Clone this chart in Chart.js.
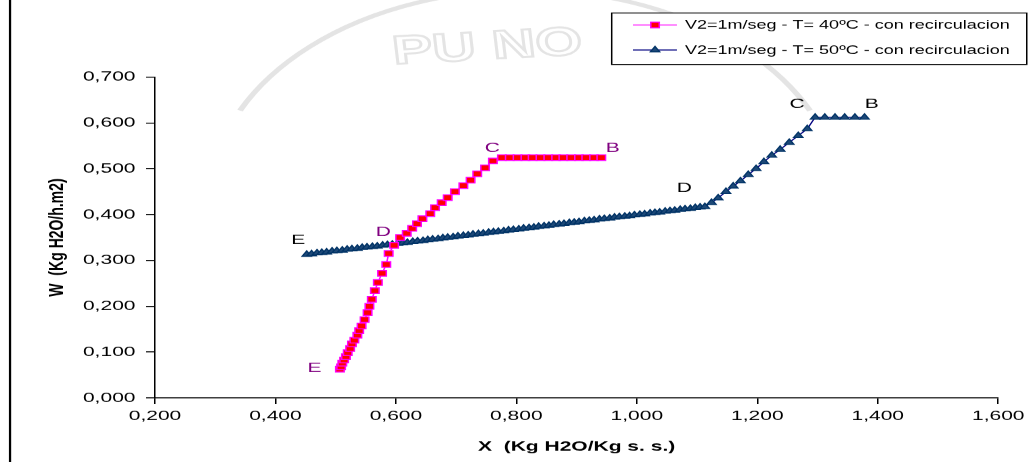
<!DOCTYPE html>
<html>
<head>
<meta charset="utf-8">
<script src="https://cdn.jsdelivr.net/npm/chart.js@4"></script>
<style>
  html, body { margin: 0; padding: 0; background: #fff; }
  /* the original picture is stretched sideways, so the canvas is too */
  #myChart { display: block; width: 1030px !important; height: 462px !important; }
</style>
</head>
<body>
<canvas id="myChart" width="687" height="462"></canvas>
<script>
// T = 40ºC, squares (E -> D -> C -> B)
const x40 = [0.507, 0.509, 0.511, 0.514, 0.517, 0.520, 0.524, 0.527, 0.531, 0.536,
             0.539, 0.543, 0.548, 0.553, 0.556, 0.560, 0.565, 0.570, 0.577, 0.584,
             0.588, 0.597, 0.607, 0.618, 0.627, 0.635, 0.644, 0.657, 0.665, 0.676,
             0.686, 0.698, 0.712, 0.724, 0.735, 0.748, 0.761, 0.776, 0.789, 0.802,
             0.815, 0.827, 0.840, 0.853, 0.866, 0.878, 0.891, 0.904, 0.916, 0.929, 0.941];
const w40 = [0.063, 0.068, 0.076, 0.083, 0.090, 0.099, 0.108, 0.118, 0.126, 0.137,
             0.147, 0.157, 0.171, 0.186, 0.200, 0.215, 0.234, 0.252, 0.272, 0.291,
             0.315, 0.333, 0.350, 0.359, 0.370, 0.380, 0.391, 0.402, 0.415, 0.426,
             0.437, 0.450, 0.463, 0.475, 0.489, 0.502, 0.517, 0.524, 0.524, 0.524,
             0.524, 0.524, 0.524, 0.524, 0.524, 0.524, 0.524, 0.524, 0.524, 0.524, 0.524];

// T = 50ºC, triangles (E -> D -> C -> B)
const x50 = [0.452, 0.460, 0.469, 0.477, 0.485, 0.494, 0.502, 0.511, 0.519, 0.527,
             0.536, 0.544, 0.552, 0.561, 0.569, 0.578, 0.586, 0.594, 0.603, 0.611,
             0.619, 0.628, 0.636, 0.645, 0.653, 0.661, 0.670, 0.678, 0.686, 0.695,
             0.703, 0.712, 0.720, 0.728, 0.737, 0.745, 0.754, 0.762, 0.770, 0.779,
             0.787, 0.795, 0.804, 0.812, 0.821, 0.829, 0.837, 0.846, 0.854, 0.862,
             0.871, 0.879, 0.888, 0.896, 0.904, 0.913, 0.921, 0.929, 0.938, 0.946,
             0.955, 0.963, 0.971, 0.980, 0.988, 0.996, 1.005, 1.013, 1.022, 1.030,
             1.038, 1.047, 1.055, 1.063, 1.072, 1.080, 1.089, 1.097, 1.105, 1.113,
             1.124, 1.135, 1.148, 1.160, 1.172, 1.185, 1.198, 1.211, 1.224, 1.238,
             1.253, 1.268, 1.283, 1.296, 1.312, 1.329, 1.345, 1.362, 1.378];
const w50 = [0.313, 0.314, 0.316, 0.317, 0.318, 0.320, 0.321, 0.322, 0.324, 0.325,
             0.326, 0.328, 0.329, 0.330, 0.331, 0.333, 0.334, 0.335, 0.337, 0.338,
             0.339, 0.341, 0.342, 0.343, 0.345, 0.346, 0.347, 0.349, 0.350, 0.351,
             0.353, 0.354, 0.355, 0.357, 0.358, 0.359, 0.361, 0.362, 0.363, 0.364,
             0.366, 0.367, 0.368, 0.370, 0.371, 0.372, 0.374, 0.375, 0.376, 0.378,
             0.379, 0.380, 0.382, 0.383, 0.384, 0.386, 0.387, 0.388, 0.390, 0.391,
             0.392, 0.394, 0.395, 0.396, 0.397, 0.399, 0.400, 0.401, 0.403, 0.404,
             0.405, 0.407, 0.408, 0.409, 0.411, 0.412, 0.413, 0.415, 0.416, 0.417,
             0.426, 0.436, 0.450, 0.462, 0.473, 0.487, 0.500, 0.515, 0.529, 0.542,
             0.557, 0.572, 0.587, 0.612, 0.612, 0.612, 0.612, 0.612, 0.612];

// letters written next to the curves
const stageNames = ['E', 'D', 'C', 'B'];
const stage40X = [0.465, 0.579, 0.760, 0.960];
const stage40W = [0.065, 0.362, 0.545, 0.545];
const stage50X = [0.438, 1.079, 1.266, 1.390];
const stage50W = [0.344, 0.458, 0.641, 0.641];

const seriesNames = [
    'V2=1m/seg - T= 40ºC - con recirculacion',
    'V2=1m/seg - T= 50ºC - con recirculacion'
];

const FONT = "'Liberation Sans', Arial, sans-serif";

function toPoints(xs, ys){
    return xs.map((x, i) => ({x: x, y: ys[i]}));
}

function fmt(v){
    return Number(v).toFixed(3).replace('.', ',');
}

// faint watermark behind the plot
const watermark = {
    id: 'watermark',
    beforeDraw(chart){
        const ctx = chart.ctx;
        ctx.save();
        ctx.strokeStyle = '#e4e4e4';
        ctx.lineWidth = 4;
        ctx.beginPath();
        ctx.arc(350, 200, 210, Math.PI * 1.14, Math.PI * 1.86);
        ctx.stroke();
        ctx.translate(325, 48);
        ctx.rotate(-0.08);
        ctx.font = 'bold 40px ' + FONT;
        ctx.textAlign = 'center';
        ctx.textBaseline = 'middle';
        ctx.lineWidth = 2;
        ctx.strokeText('PU NO', 0, 0);
        ctx.restore();
    }
};

const extras = {
    id: 'extras',
    afterDraw(chart){
        const ctx = chart.ctx;
        const sx = chart.scales.x, sy = chart.scales.y;
        ctx.save();

        // outer frame of the original figure
        ctx.strokeStyle = '#000';
        ctx.lineWidth = 1.5;
        ctx.beginPath();
        ctx.moveTo(6.7, 0);
        ctx.lineTo(6.7, 462);
        ctx.stroke();

        // stage letters
        ctx.font = '14px ' + FONT;
        ctx.textAlign = 'center';
        ctx.textBaseline = 'middle';
        stageNames.forEach((s, i) => {
            ctx.fillStyle = '#800080';
            ctx.fillText(s, sx.getPixelForValue(stage40X[i]), sy.getPixelForValue(stage40W[i]));
            ctx.fillStyle = '#000';
            ctx.fillText(s, sx.getPixelForValue(stage50X[i]), sy.getPixelForValue(stage50W[i]));
        });

        // legend box, drawn the way the spreadsheet does it
        ctx.fillStyle = '#fff';
        ctx.fillRect(407.8, 13, 276.7, 51.5);
        ctx.lineWidth = 1;
        ctx.strokeStyle = '#000';
        ctx.strokeRect(407.8, 13, 276.7, 51.5);

        const rows = [25, 50];
        chart.data.datasets.forEach((ds, i) => {
            const y = rows[i];
            ctx.strokeStyle = ds.borderColor;
            ctx.lineWidth = 1;
            ctx.beginPath();
            ctx.moveTo(422, y);
            ctx.lineTo(451.3, y);
            ctx.stroke();
            ctx.fillStyle = ds.pointBackgroundColor;
            ctx.strokeStyle = ds.pointBorderColor;
            ctx.lineWidth = ds.pointBorderWidth;
            Chart.helpers.drawPoint(ctx, {
                pointStyle: ds.pointStyle,
                radius: ds.pointRadius,
                rotation: 0,
                borderWidth: ds.pointBorderWidth
            }, 436.7, y);
            ctx.fillStyle = '#000';
            ctx.font = '12px ' + FONT;
            ctx.textAlign = 'left';
            ctx.textBaseline = 'middle';
            ctx.fillText(ds.label, 456.7, y + 0.5);
        });
        ctx.restore();
    }
};

const ctx = document.getElementById('myChart').getContext('2d');
const myChart = new Chart(ctx, {
    type: 'scatter',
    data: {
        datasets: [{
            label: seriesNames[0],
            data: toPoints(x40, w40),
            showLine: true,
            borderColor: '#ff00ff',
            borderWidth: 1,
            pointStyle: 'rect',
            pointRadius: 4,
            pointBackgroundColor: '#ff0000',
            pointBorderColor: '#ff00ff',
            pointBorderWidth: 1
        },
        {
            label: seriesNames[1],
            data: toPoints(x50, w50),
            showLine: true,
            borderColor: '#000080',
            borderWidth: 1,
            pointStyle: 'triangle',
            pointRadius: 3.6,
            pointBackgroundColor: '#1d4877',
            pointBorderColor: '#003366',
            pointBorderWidth: 1
        }]
    },
    options: {
        responsive: false,
        animation: false,
        devicePixelRatio: 1.5,
        layout: { padding: { left: 0, top: 77, right: 20.3, bottom: 0 } },
        plugins: {
            legend: { display: false },
            tooltip: { enabled: false }
        },
        scales: {
            x: {
                type: 'linear',
                min: 0.2,
                max: 1.6,
                afterFit: s => { s.height = 64; },
                border: { color: '#000', width: 1 },
                grid: { drawOnChartArea: false, drawTicks: true, tickLength: 6, color: '#000' },
                ticks: {
                    stepSize: 0.2,
                    padding: 4,
                    color: '#000',
                    font: { family: FONT, size: 14 },
                    callback: v => fmt(v)
                },
                title: {
                    display: true,
                    text: 'X  (Kg H2O/Kg s. s.)',
                    color: '#000',
                    font: { family: FONT, size: 14, weight: 'bold' },
                    padding: { top: 0, bottom: 7 }
                }
            },
            y: {
                type: 'linear',
                min: 0,
                max: 0.7,
                afterFit: s => { s.width = 103.33; },
                border: { color: '#000', width: 1 },
                grid: { drawOnChartArea: false, drawTicks: true, tickLength: 6, color: '#000' },
                ticks: {
                    stepSize: 0.1,
                    padding: 7,
                    color: '#000',
                    font: { family: FONT, size: 14 },
                    callback: v => fmt(v)
                },
                title: {
                    display: true,
                    text: 'W  (Kg H2O/h.m2)',
                    color: '#000',
                    font: { family: FONT, size: 14, weight: 'bold' },
                    padding: { top: 30, bottom: 0 }
                }
            }
        }
    },
    plugins: [watermark, extras]
});
</script>
</body>
</html>
